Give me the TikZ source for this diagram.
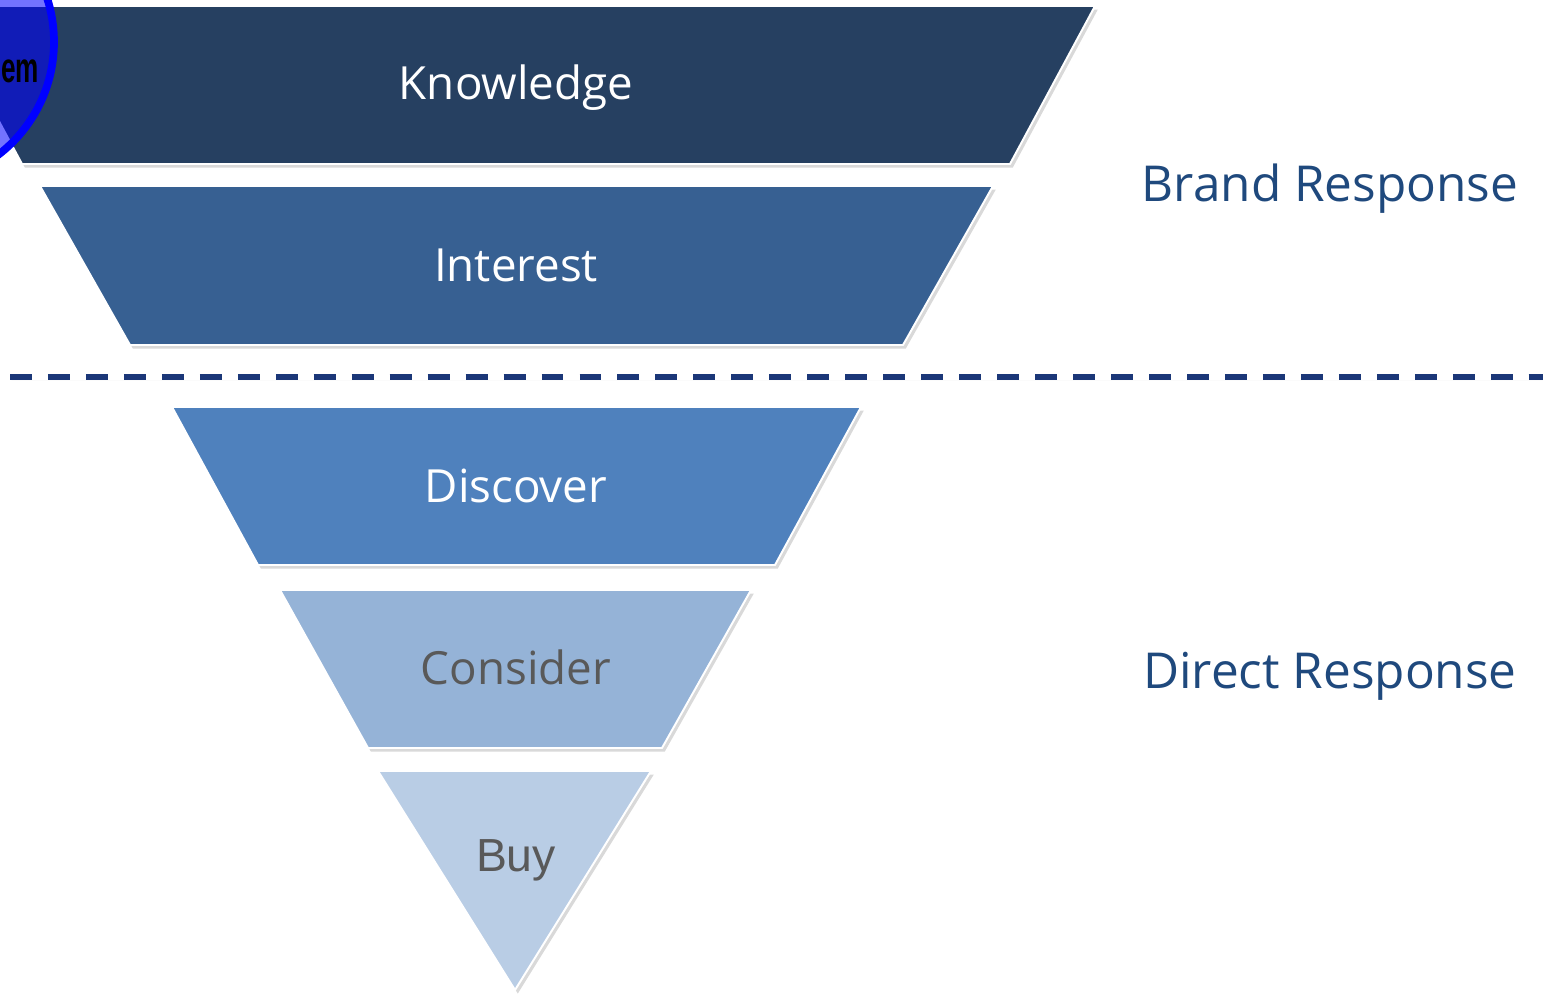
\documentclass[tikz,border=0pt]{standalone}
\usepackage{xcolor}
\usepackage{fontspec}
\setmainfont{Open Sans}
\newfontfamily\arialfont{Liberation Sans}
\usepackage{tikz}
\usetikzlibrary{shadows}

\definecolor{knowcol}{RGB}{38,64,97}
\definecolor{intcol}{RGB}{55,96,146}
\definecolor{disccol}{RGB}{79,129,189}
\definecolor{conscol}{RGB}{149,179,215}
\definecolor{buycol}{RGB}{185,205,229}
\definecolor{labelcol}{RGB}{31,73,125}
\definecolor{dashcol}{RGB}{27,55,120}
\definecolor{greytext}{RGB}{89,89,89}

\tikzset{
  stage/.style={draw=white, line width=1.4pt, line join=miter,
    drop shadow={shadow xshift=2pt, shadow yshift=-2.5pt, opacity=0.3}},
  stagetext/.style={draw=none, anchor=base, font=\fontsize{32.5}{38}\selectfont},
  sidetext/.style={draw=none, anchor=base, text=labelcol, font=\fontsize{35.2}{42}\selectfont}
}

\begin{document}
\begin{tikzpicture}[x=0.025cm, y=-0.025cm]
  \useasboundingbox (0,0) rectangle (1543,993);
  \clip (0,0) rectangle (1543,993);

  % funnel
  \draw[stage, fill=knowcol] (-63,6) -- (1095,6) -- (1010,164) -- (22,164) -- cycle;
  \draw[stage, fill=intcol] (40,186) -- (993,186) -- (903,345) -- (130,345) -- cycle;
  \draw[stage, fill=disccol] (172,407) -- (861,407) -- (775,565) -- (258,565) -- cycle;
  \draw[stage, fill=conscol] (280,590) -- (751,590) -- (662,748) -- (368,748) -- cycle;
  \draw[stage, fill=buycol] (378,771) -- (651,771) -- (515,990) -- cycle;

  \node[stagetext, text=white] (knowledge) at (516, 99) {Knowledge};
  \node[stagetext, text=white] (interest) at (516, 281) {Interest};
  \node[stagetext, text=white] (discover) at (516, 502) {Discover};
  \node[stagetext, text=greytext] (consider) at (516, 684) {Consider};
  \node[stagetext, text=greytext, font=\arialfont\fontsize{33}{38}\selectfont] (buy) at (516, 871) {Buy};

  % divider
  \coordinate (divleft) at (10, 377);
  \coordinate (divright) at (1543, 377);
  \draw[dashcol, line width=3.6pt, dash pattern=on 15.6pt off 11.4pt,
    drop shadow={shadow xshift=1pt, shadow yshift=-2.5pt, opacity=0.25}] (divleft) -- (divright);

  \node[sidetext] (brand) at (1330, 201) {Brand Response};
  \node[sidetext] (direct) at (1330, 688) {Direct Response};

  % callout circle
  \fill[blue, opacity=0.55] (-88, 42) circle (142);
  \draw[blue, line width=5.5pt] (-88, 42) circle (142);
  \node[draw=none, anchor=base west, inner sep=0pt, xscale=0.62,
    font=\arialfont\bfseries\fontsize{30}{32}\selectfont] (callout) at (1, 82) {em};
\end{tikzpicture}
\end{document}
